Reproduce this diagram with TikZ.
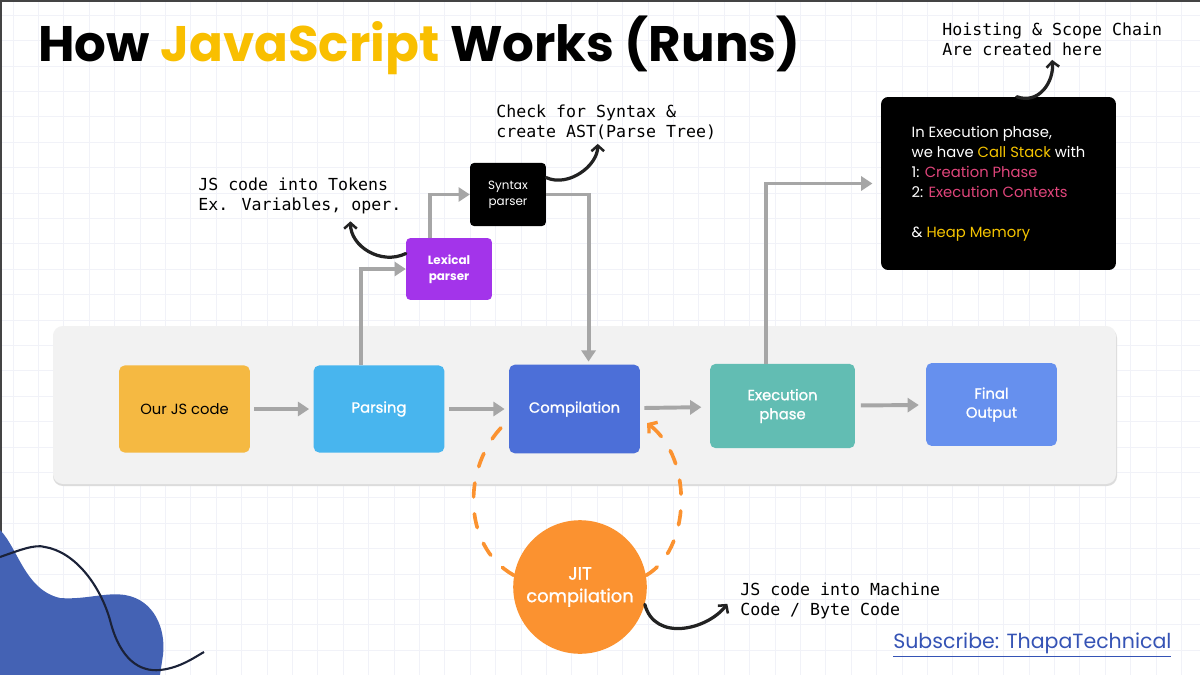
\documentclass[tikz,border=0pt]{standalone}
\usepackage{fontspec}
\setmainfont{Poppins}
\newfontfamily\medfont{Poppins}[FakeBold=1.2]
\newfontfamily\notefont{DejaVu Sans Mono}
\usetikzlibrary{arrows.meta,positioning}

\definecolor{titleyellow}{HTML}{F9BF00}
\definecolor{gridline}{HTML}{F1F2F8}
\definecolor{framegray}{HTML}{444444}
\definecolor{panelgray}{HTML}{F2F2F2}
\definecolor{panelshade}{HTML}{DCDCDC}
\definecolor{arrgray}{HTML}{A6A6A6}
\definecolor{curlblack}{HTML}{222222}
\definecolor{jsorange}{HTML}{F5B942}
\definecolor{parseblue}{HTML}{48B5EE}
\definecolor{compblue}{HTML}{4C6FD8}
\definecolor{execteal}{HTML}{62BDB3}
\definecolor{finalblue}{HTML}{6690EE}
\definecolor{lexpurple}{HTML}{A334EA}
\definecolor{jitorange}{HTML}{FB9230}
\definecolor{stackyellow}{HTML}{F5C400}
\definecolor{phasepink}{HTML}{E0457B}
\definecolor{blobblue}{HTML}{4462B4}
\definecolor{wavenavy}{HTML}{1B2238}
\definecolor{subblue}{HTML}{3553B5}

\begin{document}
\begin{tikzpicture}[
  x=0.025cm, y=-0.025cm,
  stage/.style={rounded corners=4pt, minimum width=93pt, minimum height=62pt, align=center,
                text=white, inner sep=2pt, font=\medfont\fontsize{10.5}{13.5}\selectfont},
  parser/.style={rounded corners=3pt, minimum width=61pt, minimum height=44pt, align=center,
                 text=white, inner sep=2pt, font=\fontsize{8.5}{11.5}\selectfont},
  callbox/.style={fill=black, rounded corners=5pt, minimum width=167pt, minimum height=123pt,
                  text=white, align=left, font=\fontsize{10.5}{14.2}\selectfont},
  note/.style={font=\notefont\fontsize{11.8}{14.2}\selectfont, align=left, anchor=west, inner sep=0pt},
  arr/.style={-{Triangle[length=8pt,width=10pt]}, draw=arrgray, line width=2.8pt},
  curl/.style={-{Straight Barb[length=4pt,width=9pt,line width=1.8pt]}, draw=curlblack,
               line width=2.3pt, line cap=round},
  jitloop/.style={draw=jitorange, line width=2.6pt, dash pattern=on 10pt off 12pt, line cap=round}
]
\useasboundingbox (0,0) rectangle (1200,675);
\fill[white] (0,0) rectangle (1200,675);

% faint grid
\foreach \gx in {0,...,46} \draw[gridline, line width=0.6pt] ({13+25.4*\gx},0) -- ++(0,675);
\foreach \gy in {0,...,26} \draw[gridline, line width=0.6pt] (0,{15.3+25.4*\gy}) -- ++(1200,0);
\fill[framegray] (0,0) rectangle (1200,2);
\fill[framegray] (0,0) rectangle (2,675);

% corner decoration
\fill[blobblue] (0,530) .. controls (18,548) and (25,590) .. (60,598)
  .. controls (85,600) and (105,592) .. (125,595)
  .. controls (155,600) and (166,630) .. (163,655) -- (160,675) -- (0,675) -- cycle;
\draw[wavenavy, line width=1.5pt] (0,557) .. controls (20,550) and (35,544) .. (45,547)
  .. controls (75,552) and (100,585) .. (110,620)
  .. controls (120,660) and (140,672) .. (160,670)
  .. controls (180,668) and (195,657) .. (204,652);

% title
\node[anchor=west, inner sep=0pt, font=\bfseries\fontsize{35.5}{40}\selectfont] (title) at (38,45)
  {How \textcolor{titleyellow}{JavaScript} Works (Runs)};

% main panel
\fill[panelshade, rounded corners=7pt] (53,328) rectangle (1117,486);
\fill[panelgray, rounded corners=7pt] (53,326) rectangle (1116,484);

\node[stage, fill=jsorange, text=black, font=\fontsize{10.5}{13.5}\selectfont] (jscode) at (184.5,409) {Our JS code};
\node[stage, fill=parseblue] (parsing) at (379,409) {Parsing};
\node[stage, fill=compblue, minimum height=63pt] (compil) at (574.5,409) {Compilation};
\node[stage, fill=execteal, minimum width=103pt, minimum height=60pt] (execph) at (782.5,406) {Execution\\phase};
\node[stage, fill=finalblue, minimum height=59pt] (final) at (991.5,404.5) {Final\\Output};

\node[parser, fill=lexpurple, font=\bfseries\fontsize{8.5}{11.5}\selectfont] (lexical) at (449,269) {Lexical\\parser};
\node[parser, fill=black, minimum width=54pt, minimum height=45pt] (syntax) at (508,194.5) {Syntax\\parser};
\node[callbox] (stack) at (998.5,183.5) {In Execution phase,\\
  we have \textcolor{stackyellow}{Call Stack} with\\
  1: \textcolor{phasepink}{Creation Phase}\\
  2: \textcolor{phasepink}{Execution Contexts}\\[14.2pt]
  \& \textcolor{stackyellow}{Heap Memory}};

% notes
\node[note] (hoistnote) at (942,39) {Hoisting \& Scope Chain\\Are created here};
\node[note] (checknote) at (496,122) {Check for Syntax \&\\create AST(Parse Tree)};
\node[note] (tokennote) at (198,196) {JS code into Tokens\\Ex. Variables, oper.};
\node[note] (machnote) at (740,601) {JS code into Machine\\Code / Byte Code};

% flow
\draw[arr, shorten <=3pt, shorten >=3pt] (jscode) -- (parsing);
\draw[arr, shorten <=3pt, shorten >=3pt] (parsing) -- (compil);
\draw[arr, shorten <=3pt, shorten >=6pt] (compil) -- (execph);
\draw[arr, shorten <=4pt, shorten >=5pt] (execph) -- (final);
\draw[arr] ([xshift=-13pt]parsing.north) |- (lexical.west);
\draw[arr] ([xshift=-13.5pt]lexical.north) |- (syntax.west);
\draw[arr, shorten >=2pt] (syntax.east) -| ([xshift=10pt]compil.north);
\draw[arr, shorten >=6pt] ([xshift=-11.7pt]execph.north) |- (stack.west);

% JIT loop
\node[circle, fill=jitorange, minimum size=95pt, inner sep=0pt, align=center, text=white,
      font=\medfont\fontsize{12.7}{16}\selectfont] (jit) at (580,587) {JIT\\compilation};
\draw[jitloop] (jit.170) .. controls +(-54,-30) and +(-47,40) .. ([yshift=-8pt]compil.west);
\draw[jitloop, -{Straight Barb[length=4pt,width=10pt,line width=2.4pt]}]
  (jit.10) .. controls +(44,-25) and +(47,37) .. ([shift={(5pt,-10pt)}]compil.east);

% hand arrows
\draw[curl] ([xshift=13pt]stack.north) .. controls +(22,8) and +(2,22) .. ([yshift=-3pt]hoistnote.south);
\draw[curl] ([yshift=12pt]syntax.east) .. controls +(22,10) and +(0,22) .. ([shift={(-6pt,-3pt)}]checknote.south);
\draw[curl] ([yshift=11pt]lexical.west) .. controls +(-25,12) and +(0,25) .. ([shift={(36pt,-5pt)}]tokennote.south);
\draw[curl] (jit.-15) .. controls +(10,38) and +(-20,26) .. ([shift={(-9pt,-2pt)}]machnote.west);

% footer
\node[anchor=west, inner sep=0pt, text=subblue, font=\fontsize{14.6}{17}\selectfont] (subscribe) at (893,645)
  {\underline{Subscribe: ThapaTechnical}};
\end{tikzpicture}
\end{document}
